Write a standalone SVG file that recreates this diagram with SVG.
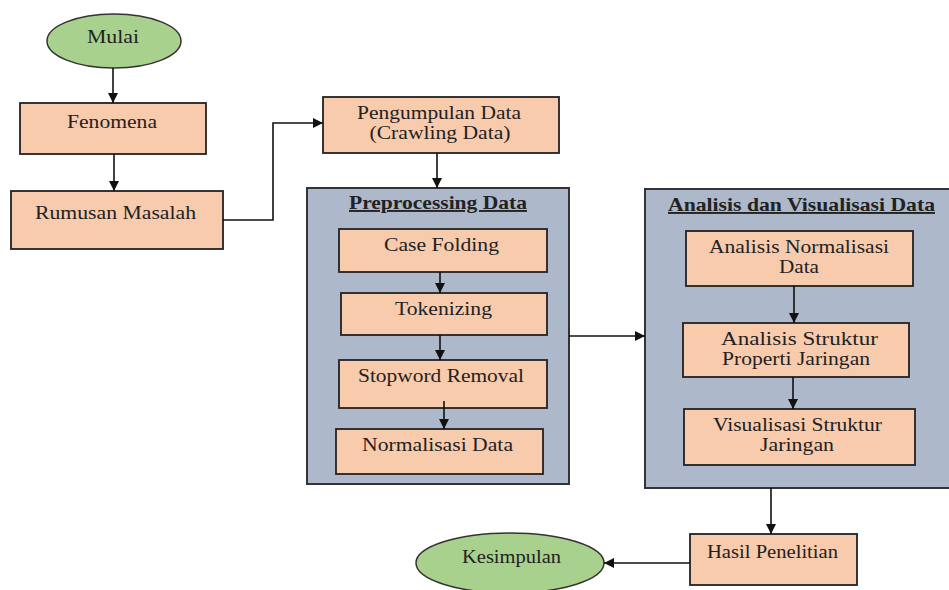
<svg xmlns="http://www.w3.org/2000/svg" width="949" height="590" viewBox="0 0 949 590">
<style>
.box{fill:#F8CBAD;stroke:#222;stroke-width:1.8}
.term{fill:#A9D18E;stroke:#333;stroke-width:1.5}
.cont{fill:#ADB9CA;stroke:#333;stroke-width:2}
text{font-family:"Liberation Serif","DejaVu Serif","Noto Serif",serif;font-size:19px;fill:#222;text-anchor:middle}
.title{font-weight:bold;text-decoration:underline}
.con{fill:none;stroke:#111;stroke-width:1.6}
</style>
<defs>
<marker id="ah" viewBox="0 0 10 10" refX="10" refY="5" markerWidth="10" markerHeight="10" markerUnits="userSpaceOnUse" orient="auto">
<path d="M0,0 L10,5 L0,10 Z" fill="#111"/>
</marker>
</defs>
<rect width="949" height="590" fill="#fff"/>
<g id="preprocessing">
<rect class="cont" x="307" y="188" width="262" height="296"/>
<text class="title" x="438" y="209" textLength="178" lengthAdjust="spacingAndGlyphs">Preprocessing Data</text>
</g>
<g id="analisis">
<rect class="cont" x="645" y="189" width="312" height="299"/>
<text class="title" x="801.5" y="211" textLength="267" lengthAdjust="spacingAndGlyphs">Analisis dan Visualisasi Data</text>
</g>
<g id="mulai">
<ellipse class="term" cx="114" cy="41" rx="67" ry="27"/>
<text x="113" y="43" textLength="52" lengthAdjust="spacingAndGlyphs">Mulai</text>
</g>
<g id="fenomena">
<rect class="box" x="20" y="103" width="186" height="51"/>
<text x="112" y="128" textLength="90" lengthAdjust="spacingAndGlyphs">Fenomena</text>
</g>
<g id="rumusan">
<rect class="box" x="11" y="191" width="212" height="58"/>
<text x="115.5" y="219" textLength="161" lengthAdjust="spacingAndGlyphs">Rumusan Masalah</text>
</g>
<g id="pengumpulan">
<rect class="box" x="323" y="97" width="236" height="56"/>
<text x="439" y="119" textLength="164" lengthAdjust="spacingAndGlyphs">Pengumpulan Data</text>
<text x="440" y="139" textLength="141" lengthAdjust="spacingAndGlyphs">(Crawling Data)</text>
</g>
<g id="casefolding">
<rect class="box" x="339" y="229" width="208" height="43"/>
<text x="441.5" y="251" textLength="115" lengthAdjust="spacingAndGlyphs">Case Folding</text>
</g>
<g id="tokenizing">
<rect class="box" x="341" y="293" width="206" height="42"/>
<text x="443.5" y="315" textLength="97" lengthAdjust="spacingAndGlyphs">Tokenizing</text>
</g>
<g id="stopword">
<rect class="box" x="339" y="360" width="208" height="48"/>
<text x="441" y="382" textLength="166" lengthAdjust="spacingAndGlyphs">Stopword Removal</text>
</g>
<g id="normalisasi">
<rect class="box" x="336" y="429" width="207" height="45"/>
<text x="437.5" y="451" textLength="151" lengthAdjust="spacingAndGlyphs">Normalisasi Data</text>
</g>
<g id="analisisnorm">
<rect class="box" x="686" y="231" width="227" height="55"/>
<text x="799" y="253" textLength="180" lengthAdjust="spacingAndGlyphs">Analisis Normalisasi</text>
<text x="799" y="273" textLength="40" lengthAdjust="spacingAndGlyphs">Data</text>
</g>
<g id="analisisstruktur">
<rect class="box" x="683" y="323" width="226" height="54"/>
<text x="799.5" y="345" textLength="157" lengthAdjust="spacingAndGlyphs">Analisis Struktur</text>
<text x="796" y="365" textLength="148" lengthAdjust="spacingAndGlyphs">Properti Jaringan</text>
</g>
<g id="visualisasi">
<rect class="box" x="684" y="409" width="231" height="56"/>
<text x="797.5" y="431" textLength="169" lengthAdjust="spacingAndGlyphs">Visualisasi Struktur</text>
<text x="797" y="451" textLength="74" lengthAdjust="spacingAndGlyphs">Jaringan</text>
</g>
<g id="hasil">
<rect class="box" x="690" y="534" width="167" height="51"/>
<text x="772.5" y="558" textLength="131" lengthAdjust="spacingAndGlyphs">Hasil Penelitian</text>
</g>
<g id="kesimpulan">
<ellipse class="term" cx="510" cy="563" rx="94" ry="30"/>
<text x="511.5" y="563" textLength="99" lengthAdjust="spacingAndGlyphs">Kesimpulan</text>
</g>
<g id="connectors">
<path class="con" d="M113,68 V103" marker-end="url(#ah)"/>
<path class="con" d="M114,154 V191" marker-end="url(#ah)"/>
<path class="con" d="M223,220 H273 V123 H323" marker-end="url(#ah)"/>
<path class="con" d="M437,153 V188" marker-end="url(#ah)"/>
<path class="con" d="M440,272 V293" marker-end="url(#ah)"/>
<path class="con" d="M440,335 V360" marker-end="url(#ah)"/>
<path class="con" d="M444,401 V429" marker-end="url(#ah)"/>
<path class="con" d="M569,336 H645" marker-end="url(#ah)"/>
<path class="con" d="M794,286 V323" marker-end="url(#ah)"/>
<path class="con" d="M793,377 V409" marker-end="url(#ah)"/>
<path class="con" d="M771,488 V534" marker-end="url(#ah)"/>
<path class="con" d="M690,563 H604" marker-end="url(#ah)"/>
</g>
</svg>
